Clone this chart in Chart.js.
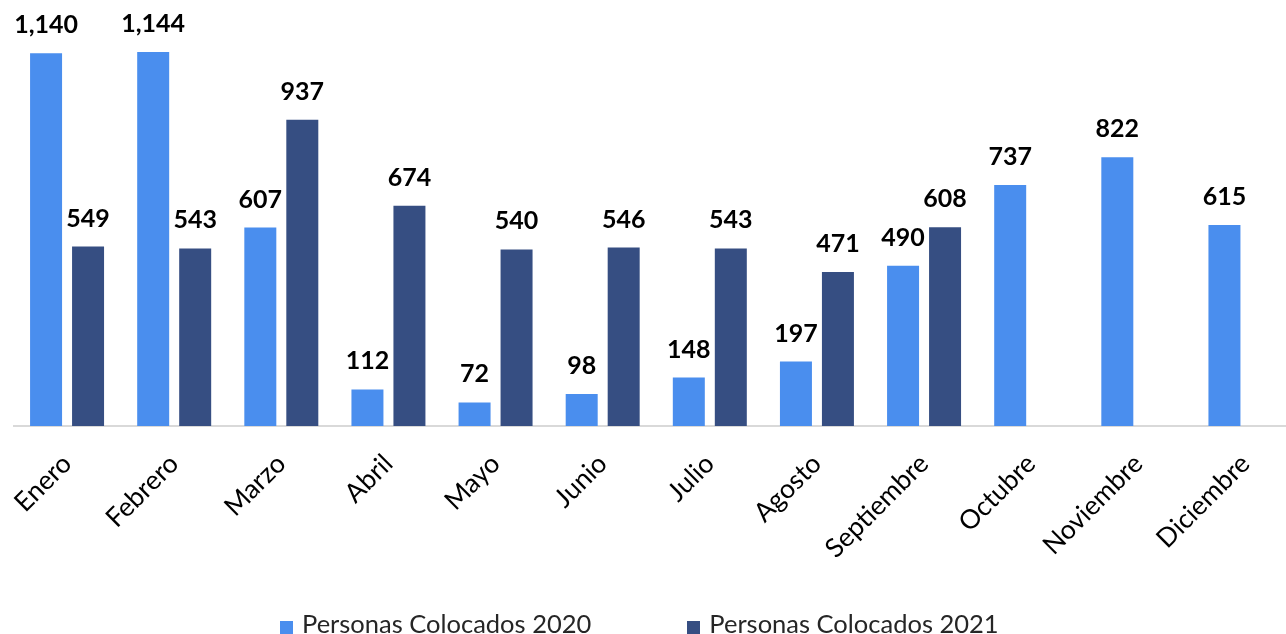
<!DOCTYPE html>
<html>
<head>
<meta charset="utf-8">
<script src="https://cdn.jsdelivr.net/npm/chart.js@4.4.1/dist/chart.umd.min.js"></script>
<style>
  html, body { margin: 0; padding: 0; background: #fff; overflow: hidden; }
  body { width: 1286px; height: 634px; position: relative; font-family: Lato, "Open Sans", sans-serif; }
  #wrap { position: absolute; left: -22px; top: 0; width: 1321px; height: 634px; }
  #legend { position: absolute; top: 610px; left: 280px; display: flex; font-size: 25.5px; line-height: 26px; color: #262626; white-space: nowrap; }
  .item { display: flex; align-items: center; }
  .item + .item { margin-left: 96px; }
  .swatch { width: 13px; height: 13px; margin-right: 9px; position: relative; top: 4px; }
</style>
</head>
<body>
<div id="wrap"><canvas id="chart"></canvas></div>
<div id="legend"></div>
<script>
const months = ["Enero", "Febrero", "Marzo", "Abril", "Mayo", "Junio", "Julio", "Agosto", "Septiembre", "Octubre", "Noviembre", "Diciembre"];
const placed2020 = [1140, 1144, 607, 112, 72, 98, 148, 197, 490, 737, 822, 615];
const placed2021 = [549, 543, 937, 674, 540, 546, 543, 471, 608, null, null, null];
const seriesNames = ["Personas Colocados 2020", "Personas Colocados 2021"];
const colours = ["#4A8EEE", "#364E82"];

const formatter = new Intl.NumberFormat("en-US");

// draws the bold value above each bar
const valueLabels = {
  id: "valueLabels",
  afterDatasetsDraw(chart) {
    const ctx = chart.ctx;
    ctx.save();
    ctx.font = "bold 25px Lato";
    ctx.fillStyle = "#000";
    ctx.textAlign = "center";
    ctx.textBaseline = "alphabetic";
    chart.data.datasets.forEach((dataset, i) => {
      chart.getDatasetMeta(i).data.forEach((bar, j) => {
        const value = dataset.data[j];
        if (value == null) return;
        ctx.fillText(formatter.format(value), bar.x, bar.y - 20);
      });
    });
    ctx.restore();
  }
};

new Chart(document.getElementById("chart"), {
  type: "bar",
  data: {
    labels: months,
    datasets: seriesNames.map((name, i) => ({
      label: name,
      data: i === 0 ? placed2020 : placed2021,
      backgroundColor: colours[i],
      categoryPercentage: 0.784,
      barPercentage: 0.762
    }))
  },
  options: {
    responsive: true,
    maintainAspectRatio: false,
    animation: false,
    layout: { padding: { left: 35.5, right: 0, top: 1, bottom: 0 } },
    plugins: {
      legend: { display: false },
      tooltip: { enabled: false }
    },
    scales: {
      x: {
        grid: { display: false },
        border: { display: true, color: "#D9D9D9", width: 2 },
        ticks: {
          color: "#000",
          font: { family: "Lato", size: 26.5 },
          minRotation: 45,
          maxRotation: 45,
          padding: 14
        },
        afterFit(scale) {
          scale.paddingLeft = 0;
          scale.paddingRight = 0;
          scale.height = 208;
        }
      },
      y: {
        display: false,
        min: 0,
        max: 1300
      }
    }
  },
  plugins: [valueLabels]
});

document.getElementById("legend").innerHTML = seriesNames.map((name, i) => `
  <div class="item"><span class="swatch" style="background:${colours[i]}"></span>${name}</div>
`).join("");
</script>
</body>
</html>
